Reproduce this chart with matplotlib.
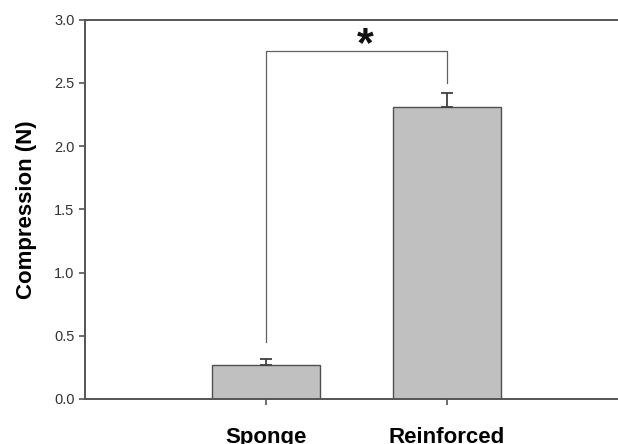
import matplotlib
matplotlib.use('Agg')
import matplotlib.pyplot as plt

# data
categories = ['Sponge', 'Reinforced']
means = [0.27, 2.31]
errors = [0.05, 0.11]

# significance bracket (level and where each leg stops)
bracket_y = 2.75
leg_bottoms = [0.45, 2.50]
sig_label = '*'

plt.rcParams['font.family'] = ['Liberation Sans', 'DejaVu Sans']

fig = plt.figure(figsize=(6.18, 4.44), dpi=100)
ax = fig.add_axes([0.1375, 0.1014, 0.8625, 0.854])

x = [1, 2]
ax.bar(x, means, width=0.6, color='#c0c0c0', edgecolor='#505050',
       linewidth=1.0, zorder=2)
ax.errorbar(x, means, yerr=[[0] * len(errors), errors], fmt='none',
            ecolor='#404040', elinewidth=1.3, capsize=4.5, capthick=1.3,
            zorder=3)

# bracket
ax.plot([x[0], x[0], x[1], x[1]],
        [leg_bottoms[0], bracket_y, bracket_y, leg_bottoms[1]],
        color='#606060', linewidth=0.9, zorder=1)
# asterisk glyph sits high in its em box, so put the baseline below the bracket
ax.text(1.55, bracket_y - 0.04, sig_label, fontsize=31, fontweight='bold',
        ha='center', va='baseline', color='#111111')

ax.set_xlim(0, 2.945)
ax.set_ylim(0, 3.0)
ax.set_yticks([0.0, 0.5, 1.0, 1.5, 2.0, 2.5, 3.0])
ax.set_yticklabels(['0.0', '0.5', '1.0', '1.5', '2.0', '2.5', '3.0'])
ax.set_xticks(x)
ax.set_xticklabels(categories, fontsize=16, fontweight='bold')

ax.spines['right'].set_visible(False)
for s in ['left', 'bottom', 'top']:
    ax.spines[s].set_color('#555555')
    ax.spines[s].set_linewidth(1.4)

ax.tick_params(axis='y', direction='out', length=4.5, width=1.2,
               color='#555555', labelsize=10.5, labelcolor='#333333', pad=3)
ax.tick_params(axis='x', direction='out', length=4, width=1.2,
               color='#555555', pad=16)

ax.set_ylabel('Compression (N)', fontsize=16, fontweight='bold',
              labelpad=12)

fig.savefig('out.png', dpi=100)
